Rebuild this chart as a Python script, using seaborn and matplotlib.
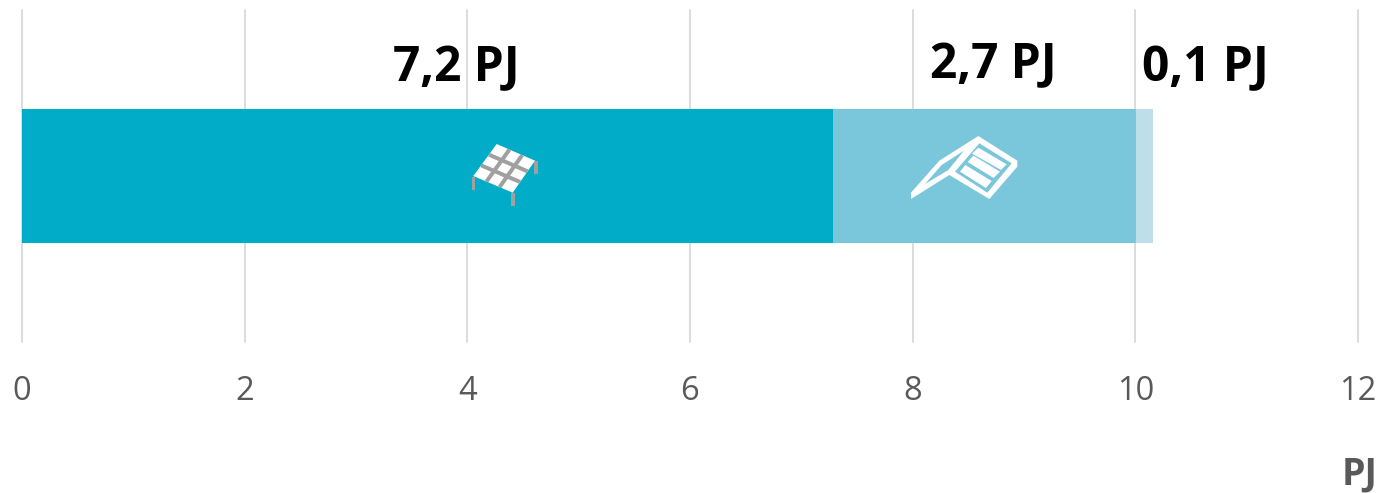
import numpy as np
import pandas as pd
import seaborn as sns
import matplotlib
matplotlib.use("Agg")
import matplotlib.pyplot as plt
from matplotlib.patches import Polygon
from matplotlib.transforms import Affine2D

# values
segments = ["Panels", "Collectors", "Other"]
values = [7.28, 2.73, 0.15]
labels = ["7,2 PJ", "2,7 PJ", "0,1 PJ"]
colors = ["#00ACC8", "#7AC6DB", "#BEDFEA"]
xticks = [0, 2, 4, 6, 8, 10, 12]

W, H = 1384, 493
sns.set_theme(style="white")
plt.rcParams["font.family"] = ["Open Sans", "DejaVu Sans"]

fig = plt.figure(figsize=(W / 100, H / 100), dpi=100)
ax = fig.add_axes([22 / W, 1 - 342 / H, (1358 - 22) / W, 332 / H])

# stacked look: cumulative totals drawn from longest to shortest
df = pd.DataFrame({"segment": segments, "total": np.cumsum(values), "row": "PJ"})
for i in [2, 1, 0]:
    sns.barplot(data=df.iloc[[i]], x="total", y="row", color=colors[i], saturation=1,
                width=0.403, orient="y", ax=ax, zorder=3, linewidth=0)

ax.set_xlim(0, 12)
ax.set_xticks(xticks)
ax.set_xlabel("")
ax.set_ylabel("")
ax.set_yticks([])
ax.xaxis.grid(True, color="#D9D9D9", lw=1.3, zorder=0)
ax.set_axisbelow(True)
ax.tick_params(axis="x", length=0, pad=24, labelsize=23.5, labelcolor="#595959")
sns.despine(ax=ax, left=True, bottom=True)
for gl in ax.get_xgridlines():
    gl.set_clip_on(False)

# pixel coordinates of the reference, y going down
px = Affine2D().scale(1, -1).translate(0, H)


def poly(points, color, z=5):
    ax.add_patch(Polygon(points, closed=True, fc=color, ec="none", transform=px, zorder=z, clip_on=False))


def zoomed(points, ox, oy):
    return [(ox + a / 3, oy + b / 3) for a, b in points]


# table icon on the first segment
ox, oy = 440, 120
grey = "#A0A0A0"
for a, b, c in [(96, 170, 105), (213, 218, 225), (283, 122, 293)]:
    poly(zoomed([(a, b), (c, b), (c, b + 39), (a, b + 39)], ox, oy), grey)
corners = np.array([(170, 72), (285, 122), (218, 218), (100, 168)], float)
poly(zoomed(corners, ox, oy), "white", 6)
for t in [1 / 3, 2 / 3]:
    for p0, p1, p2, p3 in [(0, 1, 3, 2), (0, 3, 1, 2)]:
        s = corners[p0] + t * (corners[p1] - corners[p0])
        e = corners[p2] + t * (corners[p3] - corners[p2])
        n = np.array([-(e - s)[1], (e - s)[0]])
        n = n / np.hypot(*n) * 6
        poly(zoomed([s + n, e + n, e - n, s - n], ox, oy), grey, 7)

# collector icon on the second segment
ox, oy = 890, 120
bar2 = colors[1]
poly(zoomed([(265, 48), (382, 122), (382, 140), (298, 237), (178, 165), (63, 237), (63, 218), (148, 122)], ox, oy), "white")
poly(zoomed([(222, 92), (155, 135), (105, 192), (175, 150)], ox, oy), bar2, 6)
poly(zoomed([(268, 70), (365, 130), (292, 218), (195, 155)], ox, oy), bar2, 6)
poly(zoomed([(265, 83), (350, 133), (333, 150), (246, 101)], ox, oy), "white", 7)
poly(zoomed([(250, 107), (330, 155), (311, 174), (233, 126)], ox, oy), "white", 7)
poly(zoomed([(226, 135), (305, 183), (288, 204), (210, 155)], ox, oy), "white", 7)

# value labels and unit
for text, x, y in zip(labels, [456, 993, 1205], [69, 66, 69]):
    fig.text(x / W, 1 - y / H, text, ha="center", va="center", fontsize=34.5, fontweight="bold", color="black")
fig.text(1360 / W, 1 - 474 / H, "PJ", ha="center", va="center", fontsize=27, fontweight="bold", color="#595959")

fig.savefig("out.png", dpi=100, facecolor="white")
